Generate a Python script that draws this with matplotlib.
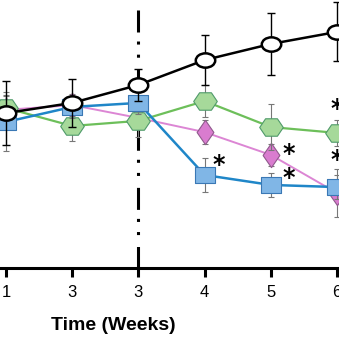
import numpy as np
import matplotlib
matplotlib.use("Agg")
import matplotlib.pyplot as plt
from matplotlib.path import Path

# ---- data (arbitrary units, 0-100 scale) ----
week_labels = ["1", "3", "3", "4", "5", "6"]
control = [57.8, 61.6, 68.3, 77.6, 83.6, 88.1]
control_err = [12, 9, 6, 9.5, 11.5, 11]
green = [59.7, 53.0, 54.9, 62.3, 52.6, 50.4]
green_err = [5, 5.5, 6, 6, 8.5, 5]
pink = [59.0, 60.8, 56.0, 50.7, 42.2, 28.0]
pink_err = [5, 4, 4, 4.5, 4, 9]
blue = [54.5, 60.1, 61.6, 34.7, 31.0, 30.2]
blue_err = [11, 4, 4, 6.3, 4.5, 4.5]
# significance marks: (series, index)
stars = [("blue", 3), ("pink", 4), ("blue", 4), ("green", 5), ("pink", 5)]
switch_point = 2

# ---- marker shapes (slightly wide, as in the reference) ----
circ = Path.unit_circle()
ellipse = Path(circ.vertices * [1.0, 14 / 19], circ.codes)
ang = np.deg2rad(np.arange(0, 360, 60))
hexv = np.c_[np.cos(ang), np.sin(ang) * (17 / 23) / 0.866]
hexagon = Path(np.vstack([hexv, hexv[:1]]), closed=True)
diamond = Path(np.array([[1, 0], [0, 1.2], [-1, 0], [0, -1.2], [1, 0]]) * [0.83, 1], closed=True)
square = Path(np.array([[1, 1], [-1, 1], [-1, -1], [1, -1], [1, 1]]) * [1, 15 / 19], closed=True)

fig = plt.figure(figsize=(3.39, 3.39), dpi=100)
ax = fig.add_axes([0, 0.2094, 1, 0.7906])
x = np.arange(len(week_labels))

series = {
    "pink": dict(y=pink, e=pink_err, line="#dc86d4", face="#d97ccf", edge="#8f5a8c",
                 marker=diamond, ms=17.5, lw=1.4, z=3),
    "green": dict(y=green, e=green_err, line="#6dbf5a", face="#a6d99a", edge="#4f9a6a",
                  marker=hexagon, ms=17, lw=1.6, z=4),
    "blue": dict(y=blue, e=blue_err, line="#1f86c8", face="#80b6e6", edge="#3a78b5",
                 marker=square, ms=14, lw=1.8, z=5),
}

for name, s in series.items():
    ax.errorbar(x, s["y"], yerr=s["e"], fmt="none", ecolor="#777777", elinewidth=0.8,
                capsize=2.5, capthick=0.8, zorder=s["z"] - 0.5)
    ax.plot(x, s["y"], color=s["line"], lw=s["lw"], marker=s["marker"], ms=s["ms"],
            mfc=s["face"], mec=s["edge"], mew=0.8, zorder=s["z"])

ax.errorbar(x, control, yerr=control_err, fmt="none", ecolor="black", elinewidth=1.0,
            capsize=3, capthick=1.0, zorder=5.5)
ax.plot(x, control, color="black", lw=1.8, marker=ellipse, ms=14, mfc="white",
        mec="black", mew=1.8, zorder=6)

# vertical dash-dot-dot line at treatment switch
ax.plot([switch_point, switch_point], [96.3, 0], color="black", lw=2.2,
        linestyle=(0, (7.2, 2.95, 1.0, 3.3, 1.0, 3.9)), dash_capstyle="butt",
        solid_capstyle="butt", zorder=2)

# significance asterisks
offsets = {("blue", 3): (10, 7), ("pink", 4): (13, 1), ("blue", 4): (13, 5),
           ("green", 5): (0, 17), ("pink", 5): (0, 24)}
for key in stars:
    name, i = key
    ox, oy = offsets[key]
    ax.annotate("*", (x[i], series[name]["y"][i]), xytext=(ox, oy),
                textcoords="offset points", ha="center", va="center",
                fontsize=17, fontweight="bold", color="black", zorder=8,
                annotation_clip=False)

ax.set_xlim(-0.0906, 5.03)
ax.set_ylim(0, 100)
for side in ["left", "top", "right"]:
    ax.spines[side].set_visible(False)
ax.spines["bottom"].set_linewidth(2.2)
ax.set_yticks([])
ax.set_xticks(x)
ax.set_xticklabels(week_labels, fontsize=12, family="Liberation Sans")
ax.tick_params(axis="x", length=6.5, width=2.2, pad=6)
fig.text(113.5 / 339, 1 - 325 / 339, "Time (Weeks)", ha="center", va="center",
         fontsize=14, fontweight="bold", family="Liberation Sans")

fig.savefig("out.png", dpi=100)
